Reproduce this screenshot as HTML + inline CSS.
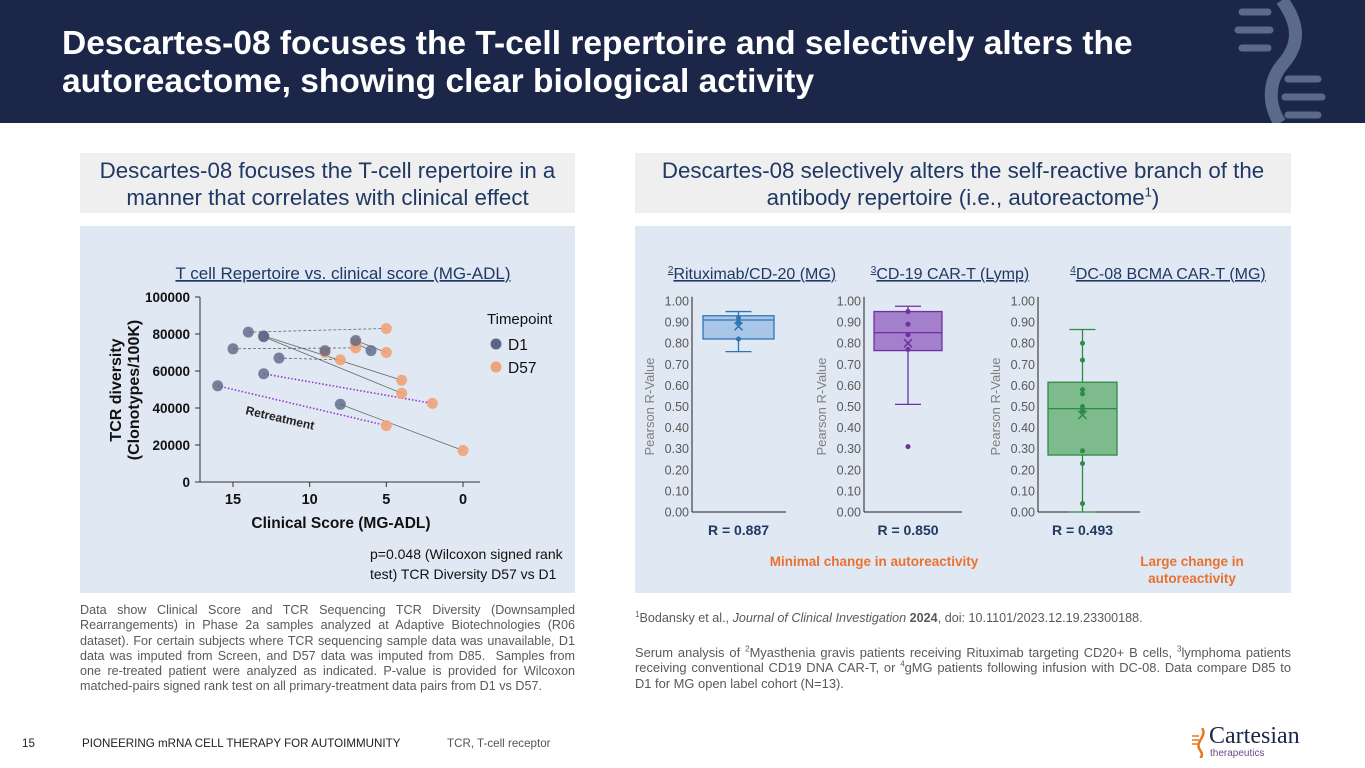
<!DOCTYPE html>
<html><head><meta charset="utf-8">
<style>
*{margin:0;padding:0;box-sizing:border-box}
body{width:1365px;height:768px;position:relative;background:#fff;font-family:"Liberation Sans",Arial,sans-serif;overflow:hidden}
.abs{position:absolute}
.hdr{left:0;top:0;width:1365px;height:123px;background:#1c2649}
.title{left:62px;top:25px;color:#fff;font-weight:bold;font-size:33.5px;line-height:38px;white-space:nowrap}
.sub{background:#efefef;color:#1f3864;font-size:22.3px;line-height:27px;text-align:center;padding-top:4px}
.sub sup{font-size:13px;line-height:0}
.panel{background:#dfe8f3}
.note{color:#595959;font-size:12.6px;line-height:15.3px;text-align:justify}
.note sup{font-size:8px;line-height:0}
.foot{color:#222;font-size:11.6px;top:737px}
</style></head><body>
<div class="abs hdr">
<svg class="abs" style="left:1210px;top:0" width="155" height="123">
<path d="M72,0 C90,25 90,45 72,65 C58,82 58,105 70,123" stroke="#5b6a8a" stroke-width="13" fill="none"/>
<g stroke="#5b6a8a" stroke-width="7" stroke-linecap="round">
<line x1="32" y1="12" x2="58" y2="12"/><line x1="28" y1="30" x2="60" y2="30"/><line x1="32" y1="48" x2="58" y2="48"/>
<line x1="78" y1="79" x2="108" y2="79"/><line x1="75" y1="97" x2="112" y2="97"/><line x1="78" y1="115" x2="108" y2="115"/></g>
</svg>
<div class="abs title">Descartes-08 focuses the T-cell repertoire and selectively alters the<br>autoreactome, showing clear biological activity</div>
</div>

<div class="abs sub" style="left:80px;top:153px;width:495px;height:60px">Descartes-08 focuses the T-cell repertoire in a<br>manner that correlates with clinical effect</div>
<div class="abs sub" style="left:635px;top:153px;width:656px;height:60px">Descartes-08 selectively alters the self-reactive branch of the<br>antibody repertoire (i.e., autoreactome<sup>1</sup>)</div>

<div class="abs panel" style="left:80px;top:226px;width:495px;height:367px"></div>
<div class="abs panel" style="left:635px;top:226px;width:656px;height:367px"></div>

<svg class="abs" style="left:0;top:0" width="1365" height="768" id="charts"></svg>

<div class="abs" style="left:370px;top:544px;font-size:14px;line-height:20px;color:#111">p=0.048 (Wilcoxon signed rank<br>test) TCR Diversity D57 vs D1</div>

<div class="abs note" style="left:80px;top:603px;width:495px">Data show Clinical Score and TCR Sequencing TCR Diversity (Downsampled Rearrangements) in Phase 2a samples analyzed at Adaptive Biotechnologies (R06 dataset). For certain subjects where TCR sequencing sample data was unavailable, D1 data was imputed from Screen, and D57 data was imputed from D85.&nbsp; Samples from one re-treated patient were analyzed as indicated. P-value is provided for Wilcoxon matched-pairs signed rank test on all primary-treatment data pairs from D1 vs D57.</div>
<div class="abs note" style="left:635px;top:611px;width:656px"><sup>1</sup>Bodansky et al., <i>Journal of Clinical Investigation</i> <b>2024</b>, doi: 10.1101/2023.12.19.23300188.</div>
<div class="abs note" style="left:635px;top:645px;width:656px;font-size:12.9px">Serum analysis of <sup>2</sup>Myasthenia gravis patients receiving Rituximab targeting CD20+ B cells, <sup>3</sup>lymphoma patients receiving conventional CD19 DNA CAR-T, or <sup>4</sup>gMG patients following infusion with DC-08. Data compare D85 to D1 for MG open label cohort (N=13).</div>

<div class="abs foot" style="left:22px">15</div>
<div class="abs foot" style="left:82px">PIONEERING mRNA CELL THERAPY FOR AUTOIMMUNITY</div>
<div class="abs foot" style="left:447px;color:#555">TCR, T-cell receptor</div>
<div class="abs" style="left:1190px;top:726px;width:170px;height:34px">
<svg class="abs" style="left:0;top:2px" width="20" height="30"><path d="M12,0 C18,8 4,14 10,22 C13,26 12,29 10,30" stroke="#e87722" stroke-width="2.5" fill="none"/><g stroke="#e87722" stroke-width="1.5"><line x1="2" y1="8" x2="9" y2="8"/><line x1="2" y1="12" x2="9" y2="12"/><line x1="2" y1="16" x2="9" y2="16"/></g></svg>
<div class="abs" style="left:19px;top:-3px;font-size:24px;color:#1c2649;font-family:'Liberation Serif',serif">Cartesian</div>
<div class="abs" style="left:20px;top:22px;font-size:10px;color:#6b4c8a">therapeutics</div>
</div>

<script>
const NS="http://www.w3.org/2000/svg";
const svg=document.getElementById('charts');
function mk(tag,attrs,parent,text){const e=document.createElementNS(NS,tag);for(const k in attrs)e.setAttribute(k,attrs[k]);if(text!==undefined)e.textContent=text;(parent||svg).appendChild(e);return e;}

// ---------- Scatter data ----------
const d1Scores=[14,13,13,15,12,9,7,6,13,16,8];
const d1Diversity=[81000,79000,78500,72000,67000,71000,76500,71000,58500,52000,42000];
const d57Scores=[5,4,4,7,8,9,5,7,2,5,0];
const d57Diversity=[83000,55000,48000,72500,66000,70000,70000,75000,42500,30500,17000];
const pairStyles=["dash","solid","solid","dash","dash","solid","solid","solid","retreat","retreat","solid"];
const yTicks=[0,20000,40000,60000,80000,100000];
const xTicks=[15,10,5,0];

const sx=v=>463-v*(230/15);
const sy=v=>482-v*(185/100000);

mk('text',{x:343,y:279,'text-anchor':'middle','font-size':17,fill:'#1f3864','text-decoration':'underline',},svg,'T cell Repertoire vs. clinical score (MG-ADL)');
mk('line',{x1:200,y1:sy(100000),x2:200,y2:sy(0),stroke:'#333'});
mk('line',{x1:200,y1:sy(0),x2:480,y2:sy(0),stroke:'#333'});
yTicks.forEach(t=>{mk('line',{x1:195,x2:200,y1:sy(t),y2:sy(t),stroke:'#333'});
 const el=mk('text',{x:190,y:sy(t)+5,'text-anchor':'end','font-size':13.5,'font-weight':'bold',fill:'#111'},svg,String(t));
 
 });
xTicks.forEach(t=>{mk('line',{x1:sx(t),x2:sx(t),y1:sy(0),y2:sy(0)+5,stroke:'#333'});
 const el=mk('text',{x:sx(t),y:504,'text-anchor':'middle','font-size':14.5,'font-weight':'bold',fill:'#111'},svg,String(t));
 
 });
mk('text',{x:341,y:528,'text-anchor':'middle','font-size':15.5,'font-weight':'bold',fill:'#111',},svg,'Clinical Score (MG-ADL)');
const yt=mk('text',{transform:'translate(121,390) rotate(-90)','text-anchor':'middle','font-size':16,'font-weight':'bold',fill:'#111',});
mk('tspan',{x:0,dy:0},yt,'TCR diversity');mk('tspan',{x:0,dy:18},yt,'(Clonotypes/100K)');

d1Scores.forEach((s,i)=>{
 const st=pairStyles[i];
 const a={x1:sx(s),y1:sy(d1Diversity[i]),x2:sx(d57Scores[i]),y2:sy(d57Diversity[i])};
 if(st==='retreat'){a.stroke='#9b30d0';a['stroke-width']=1.6;a['stroke-dasharray']='1.5 2';}
 else{a.stroke='#666';a['stroke-width']=0.8;if(st==='dash')a['stroke-dasharray']='3 2';}
 const l=mk('line',a);
 
 
});
d57Scores.forEach((s,i)=>{const c=mk('circle',{cx:sx(s),cy:sy(d57Diversity[i]),r:5.5,fill:'#f0a378','fill-opacity':0.9});
 
 });
d1Scores.forEach((s,i)=>{const c=mk('circle',{cx:sx(s),cy:sy(d1Diversity[i]),r:5.5,fill:'#5d6686','fill-opacity':0.8});
 
 });
mk('text',{x:0,y:0,transform:'translate(245,414) rotate(13)','font-size':12,'font-weight':'bold',fill:'#222',},svg,'Retreatment');
mk('text',{x:487,y:324,'font-size':15,fill:'#111',},svg,'Timepoint');
mk('circle',{cx:496,cy:344,r:5.5,fill:'#5d6686',});
mk('text',{x:508,y:350,'font-size':15.5,fill:'#111',},svg,'D1');
mk('circle',{cx:496,cy:367,r:5.5,fill:'#f0a378',});
mk('text',{x:508,y:373,'font-size':15.5,fill:'#111',},svg,'D57');

// ---------- Box plot data ----------
const boxTitles=["Rituximab/CD-20 (MG)","CD-19 CAR-T (Lymp)","DC-08 BCMA CAR-T (MG)"];
const boxSup=["2","3","4"];
const boxQ1=[0.82,0.765,0.27];
const boxMedian=[0.91,0.85,0.49];
const boxQ3=[0.93,0.95,0.615];
const boxWhiskerLow=[0.76,0.51,0.0];
const boxWhiskerHigh=[0.95,0.975,0.865];
const boxMean=[0.88,0.80,0.46];
const boxPoints=[[0.92,0.90,0.82],[0.95,0.89,0.84,0.77,0.31],[0.80,0.72,0.58,0.56,0.50,0.48,0.29,0.23,0.04]];
const boxR=["R = 0.887","R = 0.850","R = 0.493"];
const rTicks=[0,0.1,0.2,0.3,0.4,0.5,0.6,0.7,0.8,0.9,1.0];

const axX=[692,864,1038];
const axEnd=[786,962,1140];
const bxL=[703,874,1048];
const bxW=[71,68,69];
const stroke=['#2e75b6','#7030a0','#2e8b45'];
const fill=['#a9c6e8','#a37fcc','#7dba8c'];
const titleX=[752,950,1168];
const ry=v=>512-v*211;

boxTitles.forEach((t,i)=>{
 const tt=mk('text',{x:titleX[i],y:279,'text-anchor':'middle','font-size':16,fill:'#1f3864','text-decoration':'underline'});
 
 
 mk('tspan',{'font-size':10,dy:-6},tt,boxSup[i]);mk('tspan',{dy:6},tt,t);
 mk('line',{x1:axX[i],y1:ry(1.02),x2:axX[i],y2:ry(0),stroke:'#222'});
 mk('line',{x1:axX[i],y1:ry(0),x2:axEnd[i],y2:ry(0),stroke:'#222'});
 rTicks.forEach(v=>{const l=mk('text',{x:axX[i]-3,y:ry(v)+4.5,'text-anchor':'end','font-size':12.5,fill:'#595959'},svg,v.toFixed(2));
  
  });
 const ya=mk('text',{transform:`translate(${axX[i]-38},${ry(0.5)}) rotate(-90)`,'text-anchor':'middle','font-size':13,fill:'#7f7f7f'},svg,'Pearson R-Value');
 
 
 const cx=bxL[i]+bxW[i]/2;
 mk('line',{x1:cx,x2:cx,y1:ry(boxWhiskerLow[i]),y2:ry(boxWhiskerHigh[i]),stroke:stroke[i],'stroke-width':1.3});
 [boxWhiskerLow[i],boxWhiskerHigh[i]].forEach(w=>mk('line',{x1:cx-13,x2:cx+13,y1:ry(w),y2:ry(w),stroke:stroke[i],'stroke-width':1.3}));
 const r=mk('rect',{x:bxL[i],y:ry(boxQ3[i]),width:bxW[i],height:ry(boxQ1[i])-ry(boxQ3[i]),fill:fill[i],stroke:stroke[i],'stroke-width':1.3});
 
 
 mk('line',{x1:bxL[i],x2:bxL[i]+bxW[i],y1:ry(boxMedian[i]),y2:ry(boxMedian[i]),stroke:stroke[i],'stroke-width':1.3});
 boxPoints[i].forEach(p=>{const c=mk('circle',{cx:cx,cy:ry(p),r:2.5,fill:stroke[i]});
  
  });
 const my=ry(boxMean[i]);
 mk('path',{d:`M${cx-4},${my-4}L${cx+4},${my+4}M${cx+4},${my-4}L${cx-4},${my+4}`,stroke:stroke[i],'stroke-width':1.5});
 const rl=mk('text',{x:cx,y:535,'text-anchor':'middle','font-size':14,'font-weight':'bold',fill:'#1f3864'},svg,boxR[i]);
 
 
});
mk('text',{x:874,y:566,'text-anchor':'middle','font-size':13.5,'font-weight':'bold',fill:'#e97132',},svg,'Minimal change in autoreactivity');
mk('text',{x:1192,y:566,'text-anchor':'middle','font-size':13.5,'font-weight':'bold',fill:'#e97132',},svg,'Large change in');
mk('text',{x:1192,y:583,'text-anchor':'middle','font-size':13.5,'font-weight':'bold',fill:'#e97132'},svg,'autoreactivity');
</script>
</body></html>
